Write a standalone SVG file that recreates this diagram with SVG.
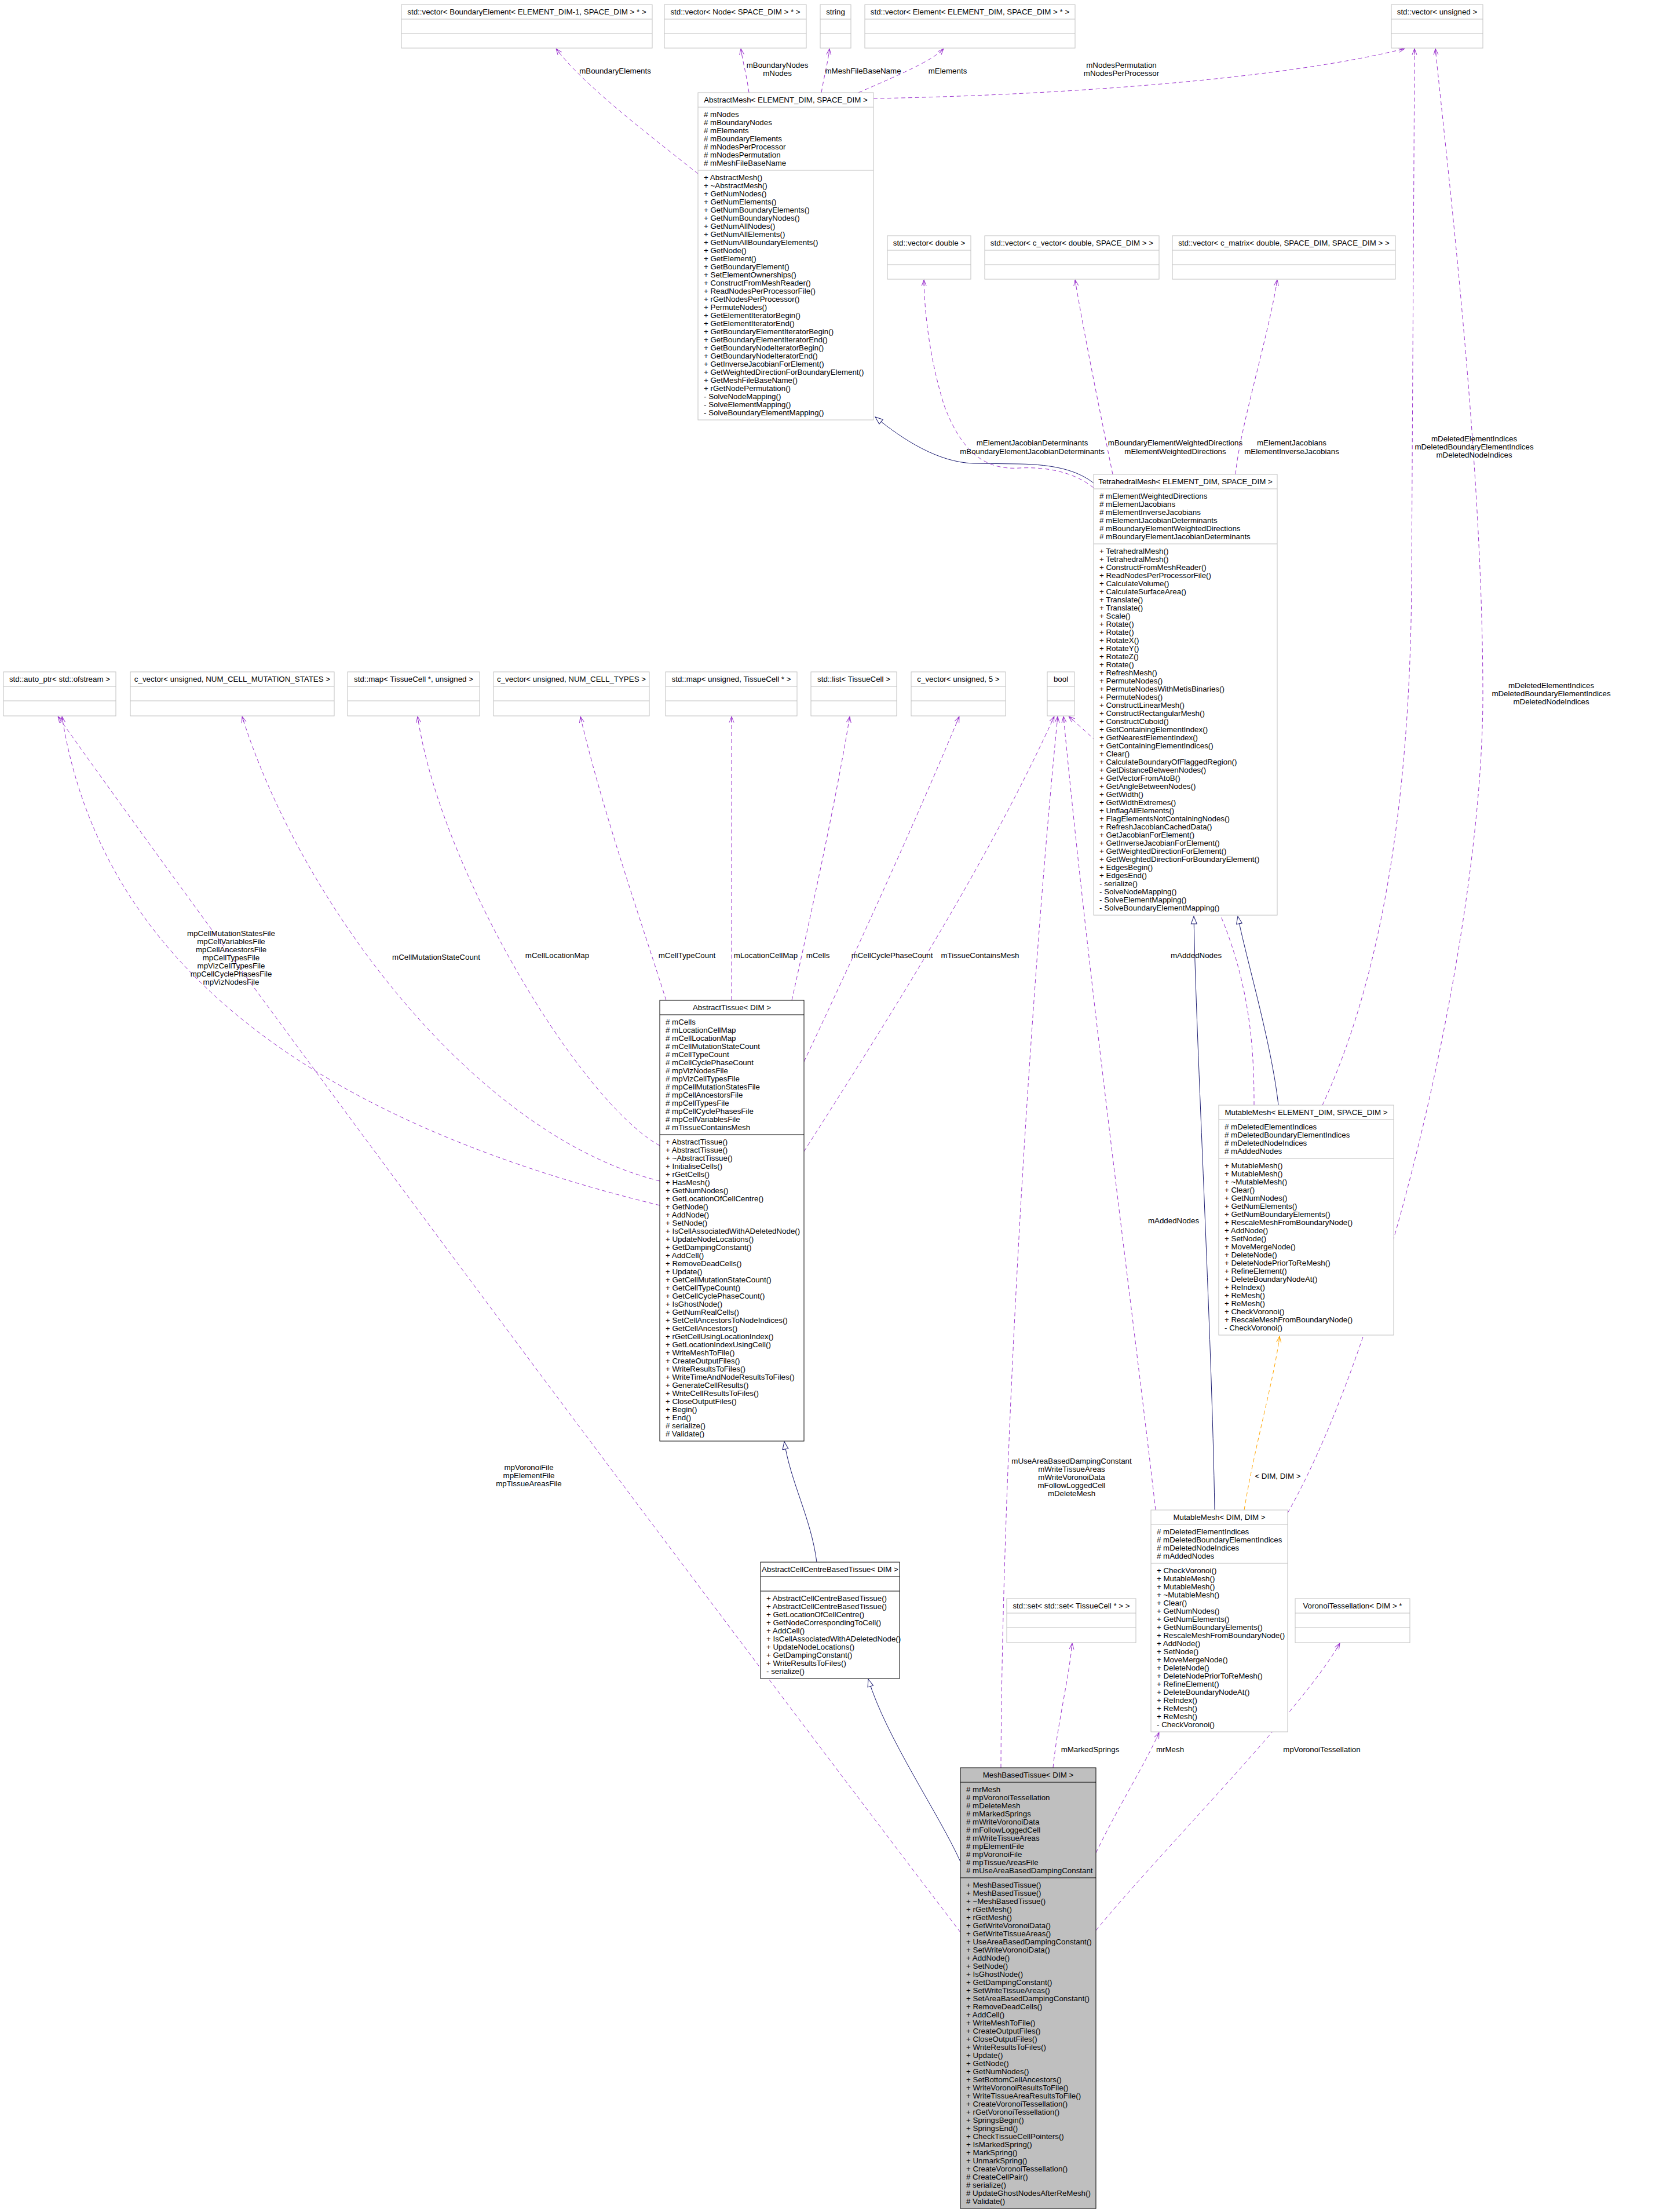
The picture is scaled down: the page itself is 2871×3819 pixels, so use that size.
<svg xmlns="http://www.w3.org/2000/svg" width="2871" height="3819" viewBox="0 0 2871 3819">
<style>
text{font-family:"Liberation Sans",Arial,Helvetica,sans-serif;font-size:13.33px;fill:#000}
.t{text-anchor:middle}
.g rect{fill:#fff;stroke:#bfbfbf;stroke-width:1}
.g path{fill:none;stroke:#bfbfbf;stroke-width:1}
.b rect,.b path{stroke:#000}
.f rect{fill:#bfbfbf}
.e path{fill:none;stroke-width:1}
.u{stroke:#9a32cd;stroke-dasharray:7,5;marker-end:url(#mu)}
.i{stroke:#191970;marker-end:url(#mi)}
.o{stroke:#ffa500;stroke-dasharray:7,5;marker-end:url(#mo)}
</style>
<defs>
<marker id="mu" viewBox="0 0 12 10" refX="11.5" refY="5" markerWidth="12" markerHeight="10" orient="auto" markerUnits="userSpaceOnUse"><path d="M1,1 L11.5,5 L1,9 M1,5 L11.5,5" fill="none" stroke="#9a32cd" stroke-width="1" stroke-dasharray="none"/></marker>
<marker id="mo" viewBox="0 0 12 10" refX="11.5" refY="5" markerWidth="12" markerHeight="10" orient="auto" markerUnits="userSpaceOnUse"><path d="M1,1 L11.5,5 L1,9 M1,5 L11.5,5" fill="none" stroke="#ffa500" stroke-width="1" stroke-dasharray="none"/></marker>
<marker id="mi" viewBox="0 0 15 12" refX="14" refY="6" markerWidth="15" markerHeight="12" orient="auto" markerUnits="userSpaceOnUse"><path d="M1,1 L14,6 L1,11 Z" fill="#fff" stroke="#191970" stroke-width="1"/></marker>
</defs>
<rect x="0" y="0" width="2871" height="3819" fill="#fff"/>

<g id="edges" class="e">
<path class="u" d="M1205,300 C1130,240 1010,150 960,84"/>
<path class="u" d="M1293,160 C1289,130 1283,110 1279,84"/>
<path class="u" d="M1418,160 C1423,130 1429,110 1432,84"/>
<path class="u" d="M1482,160 C1550,130 1610,105 1629,84"/>
<path class="u" d="M1508,170 C1800,165 2200,140 2425,84"/>
<path class="i" d="M1888,834 C1860,812 1820,802 1760,801 L1680,800 C1620,798 1560,760 1511,720"/>
<path class="u" d="M1888,842 C1850,812 1800,806 1760,808 C1700,812 1660,780 1630,700 C1605,620 1596,540 1595,483"/>
<path class="u" d="M1921,819 C1905,740 1872,580 1856,483"/>
<path class="u" d="M2133,819 C2140,740 2190,580 2205,483"/>
<path class="i" d="M2207,1908 C2195,1800 2150,1650 2137,1582"/>
<path class="i" d="M2097,2607 C2092,2300 2065,1800 2061,1582"/>
<path class="o" d="M2148,2607 C2165,2500 2200,2380 2209,2307"/>
<path class="u" d="M2283,1908 C2380,1700 2435,1400 2437,1000 C2439,600 2441,300 2442,84"/>
<path class="u" d="M2223,2612 C2400,2300 2560,1600 2560,1200 C2560,800 2500,300 2478,84"/>
<path class="u" d="M2165,1908 C2165,1750 2150,1500 1845,1237"/>
<path class="u" d="M1995,2607 C1960,2300 1880,1700 1836,1237"/>
<path class="u" d="M1728,3052 C1730,2500 1780,1700 1826,1237"/>
<path class="u" d="M1388,1988 C1520,1780 1700,1500 1820,1237"/>
<path class="u" d="M1388,1833 C1470,1660 1580,1420 1656,1237"/>
<path class="u" d="M1367,1727 C1395,1600 1440,1400 1467,1237"/>
<path class="u" d="M1263,1727 L1263,1237"/>
<path class="u" d="M1150,1727 C1110,1600 1040,1400 1002,1237"/>
<path class="u" d="M1139,1978 C1000,1900 760,1500 721,1237"/>
<path class="u" d="M1139,2039 C820,1960 520,1560 418,1237"/>
<path class="u" d="M1139,2081 C600,1950 180,1700 107,1237"/>
<path class="u" d="M1658,3336 C1250,2800 500,1800 100,1237"/>
<path class="u" d="M1818,3052 C1825,2980 1845,2900 1851,2837"/>
<path class="u" d="M1892,3199 C1930,3120 1980,3040 2001,2991"/>
<path class="u" d="M1892,3333 C2000,3200 2250,2950 2313,2837"/>
<path class="i" d="M1658,3214 C1620,3130 1530,3000 1499,2899"/>
<path class="i" d="M1410,2697 C1400,2620 1365,2560 1354,2489"/>
<g class="t">
<text x="1062" y="127">mBoundaryElements</text>
<text x="1342" y="117">mBoundaryNodes</text><text x="1342" y="131">mNodes</text>
<text x="1490" y="127">mMeshFileBaseName</text>
<text x="1636" y="127">mElements</text>
<text x="1936" y="117">mNodesPermutation</text><text x="1936" y="131">mNodesPerProcessor</text>
<text x="1782" y="769">mElementJacobianDeterminants</text><text x="1782" y="784">mBoundaryElementJacobianDeterminants</text>
<text x="2029" y="769">mBoundaryElementWeightedDirections</text><text x="2029" y="784">mElementWeightedDirections</text>
<text x="2230" y="769">mElementJacobians</text><text x="2230" y="784">mElementInverseJacobians</text>
<text x="2545" y="762">mDeletedElementIndices</text><text x="2545" y="776">mDeletedBoundaryElementIndices</text><text x="2545" y="790">mDeletedNodeIndices</text>
<text x="2678" y="1188">mDeletedElementIndices</text><text x="2678" y="1202">mDeletedBoundaryElementIndices</text><text x="2678" y="1216">mDeletedNodeIndices</text>
<text x="399" y="1616">mpCellMutationStatesFile</text><text x="399" y="1630">mpCellVariablesFile</text><text x="399" y="1644">mpCellAncestorsFile</text><text x="399" y="1658">mpCellTypesFile</text><text x="399" y="1672">mpVizCellTypesFile</text><text x="399" y="1686">mpCellCyclePhasesFile</text><text x="399" y="1700">mpVizNodesFile</text>
<text x="753" y="1657">mCellMutationStateCount</text>
<text x="962" y="1654">mCellLocationMap</text>
<text x="1186" y="1654">mCellTypeCount</text>
<text x="1322" y="1654">mLocationCellMap</text>
<text x="1412" y="1654">mCells</text>
<text x="1540" y="1654">mCellCyclePhaseCount</text>
<text x="1692" y="1654">mTissueContainsMesh</text>
<text x="2065" y="1654">mAddedNodes</text>
<text x="2026" y="2112">mAddedNodes</text>
<text x="2206" y="2553">&lt; DIM, DIM &gt;</text>
<text x="913" y="2538">mpVoronoiFile</text><text x="913" y="2552">mpElementFile</text><text x="913" y="2566">mpTissueAreasFile</text>
<text x="1850" y="2527">mUseAreaBasedDampingConstant</text><text x="1850" y="2541">mWriteTissueAreas</text><text x="1850" y="2555">mWriteVoronoiData</text><text x="1850" y="2569">mFollowLoggedCell</text><text x="1850" y="2583">mDeleteMesh</text>
<text x="1882" y="3025">mMarkedSprings</text>
<text x="2020" y="3025">mrMesh</text>
<text x="2282" y="3025">mpVoronoiTessellation</text>
</g>
</g>

<g id="n_vecBoundaryElement" class="g"><rect x="693" y="8" width="433" height="75"/><path d="M693,33H1126M693,58H1126"/><text class="t" x="909.5" y="25">std::vector&lt; BoundaryElement&lt; ELEMENT_DIM-1, SPACE_DIM &gt; * &gt;</text></g>
<g id="n_vecNode" class="g"><rect x="1147" y="8" width="245" height="75"/><path d="M1147,33H1392M1147,58H1392"/><text class="t" x="1269.5" y="25">std::vector&lt; Node&lt; SPACE_DIM &gt; * &gt;</text></g>
<g id="n_string" class="g"><rect x="1416" y="8" width="53" height="75"/><path d="M1416,33H1469M1416,58H1469"/><text class="t" x="1442.5" y="25">string</text></g>
<g id="n_vecElement" class="g"><rect x="1493" y="8" width="363" height="75"/><path d="M1493,33H1856M1493,58H1856"/><text class="t" x="1674.5" y="25">std::vector&lt; Element&lt; ELEMENT_DIM, SPACE_DIM &gt; * &gt;</text></g>
<g id="n_vecUnsigned" class="g"><rect x="2402" y="8" width="158" height="75"/><path d="M2402,33H2560M2402,58H2560"/><text class="t" x="2481" y="25">std::vector&lt; unsigned &gt;</text></g>

<g id="n_vecDouble" class="g"><rect x="1532" y="407" width="144" height="75"/><path d="M1532,432H1676M1532,457H1676"/><text class="t" x="1604" y="424">std::vector&lt; double &gt;</text></g>
<g id="n_vecCVector" class="g"><rect x="1700" y="407" width="301" height="75"/><path d="M1700,432H2001M1700,457H2001"/><text class="t" x="1850.5" y="424">std::vector&lt; c_vector&lt; double, SPACE_DIM &gt; &gt;</text></g>
<g id="n_vecCMatrix" class="g"><rect x="2024" y="407" width="385" height="75"/><path d="M2024,432H2409M2024,457H2409"/><text class="t" x="2216.5" y="424">std::vector&lt; c_matrix&lt; double, SPACE_DIM, SPACE_DIM &gt; &gt;</text></g>

<g id="n_autoPtr" class="g"><rect x="6" y="1160" width="194" height="76"/><path d="M6,1185H200M6,1210H200"/><text class="t" x="103" y="1177">std::auto_ptr&lt; std::ofstream &gt;</text></g>
<g id="n_cvMutation" class="g"><rect x="225" y="1160" width="352" height="76"/><path d="M225,1185H577M225,1210H577"/><text class="t" x="401" y="1177">c_vector&lt; unsigned, NUM_CELL_MUTATION_STATES &gt;</text></g>
<g id="n_mapCellUnsigned" class="g"><rect x="600" y="1160" width="228" height="76"/><path d="M600,1185H828M600,1210H828"/><text class="t" x="714" y="1177">std::map&lt; TissueCell *, unsigned &gt;</text></g>
<g id="n_cvTypes" class="g"><rect x="852" y="1160" width="269" height="76"/><path d="M852,1185H1121M852,1210H1121"/><text class="t" x="986.5" y="1177">c_vector&lt; unsigned, NUM_CELL_TYPES &gt;</text></g>
<g id="n_mapUnsignedCell" class="g"><rect x="1149" y="1160" width="227" height="76"/><path d="M1149,1185H1376M1149,1210H1376"/><text class="t" x="1262.5" y="1177">std::map&lt; unsigned, TissueCell * &gt;</text></g>
<g id="n_listCell" class="g"><rect x="1400" y="1160" width="148" height="76"/><path d="M1400,1185H1548M1400,1210H1548"/><text class="t" x="1474" y="1177">std::list&lt; TissueCell &gt;</text></g>
<g id="n_cv5" class="g"><rect x="1573" y="1160" width="163" height="76"/><path d="M1573,1185H1736M1573,1210H1736"/><text class="t" x="1654.5" y="1177">c_vector&lt; unsigned, 5 &gt;</text></g>
<g id="n_bool" class="g"><rect x="1808" y="1160" width="47" height="76"/><path d="M1808,1185H1855M1808,1210H1855"/><text class="t" x="1831.5" y="1177">bool</text></g>

<g id="n_setSet" class="g"><rect x="1738" y="2760" width="223" height="76"/><path d="M1738,2785H1961M1738,2810H1961"/><text class="t" x="1849.5" y="2777">std::set&lt; std::set&lt; TissueCell * &gt; &gt;</text></g>
<g id="n_voronoi" class="g"><rect x="2236" y="2760" width="198" height="76"/><path d="M2236,2785H2434M2236,2810H2434"/><text class="t" x="2335" y="2777">VoronoiTessellation&lt; DIM &gt; *</text></g>

<g id="n_AbstractMesh" class="g"><rect x="1205" y="160" width="303" height="565"/><path d="M1205,185H1508M1205,294H1508"/>
<text class="t" x="1356.5" y="177">AbstractMesh&lt; ELEMENT_DIM, SPACE_DIM &gt;</text>
<text x="1215" y="202"><tspan x="1215"># mNodes</tspan><tspan x="1215" dy="14"># mBoundaryNodes</tspan><tspan x="1215" dy="14"># mElements</tspan><tspan x="1215" dy="14"># mBoundaryElements</tspan><tspan x="1215" dy="14"># mNodesPerProcessor</tspan><tspan x="1215" dy="14"># mNodesPermutation</tspan><tspan x="1215" dy="14"># mMeshFileBaseName</tspan></text>
<text x="1215" y="311"><tspan x="1215">+ AbstractMesh()</tspan><tspan x="1215" dy="14">+ ~AbstractMesh()</tspan><tspan x="1215" dy="14">+ GetNumNodes()</tspan><tspan x="1215" dy="14">+ GetNumElements()</tspan><tspan x="1215" dy="14">+ GetNumBoundaryElements()</tspan><tspan x="1215" dy="14">+ GetNumBoundaryNodes()</tspan><tspan x="1215" dy="14">+ GetNumAllNodes()</tspan><tspan x="1215" dy="14">+ GetNumAllElements()</tspan><tspan x="1215" dy="14">+ GetNumAllBoundaryElements()</tspan><tspan x="1215" dy="14">+ GetNode()</tspan><tspan x="1215" dy="14">+ GetElement()</tspan><tspan x="1215" dy="14">+ GetBoundaryElement()</tspan><tspan x="1215" dy="14">+ SetElementOwnerships()</tspan><tspan x="1215" dy="14">+ ConstructFromMeshReader()</tspan><tspan x="1215" dy="14">+ ReadNodesPerProcessorFile()</tspan><tspan x="1215" dy="14">+ rGetNodesPerProcessor()</tspan><tspan x="1215" dy="14">+ PermuteNodes()</tspan><tspan x="1215" dy="14">+ GetElementIteratorBegin()</tspan><tspan x="1215" dy="14">+ GetElementIteratorEnd()</tspan><tspan x="1215" dy="14">+ GetBoundaryElementIteratorBegin()</tspan><tspan x="1215" dy="14">+ GetBoundaryElementIteratorEnd()</tspan><tspan x="1215" dy="14">+ GetBoundaryNodeIteratorBegin()</tspan><tspan x="1215" dy="14">+ GetBoundaryNodeIteratorEnd()</tspan><tspan x="1215" dy="14">+ GetInverseJacobianForElement()</tspan><tspan x="1215" dy="14">+ GetWeightedDirectionForBoundaryElement()</tspan><tspan x="1215" dy="14">+ GetMeshFileBaseName()</tspan><tspan x="1215" dy="14">+ rGetNodePermutation()</tspan><tspan x="1215" dy="14">- SolveNodeMapping()</tspan><tspan x="1215" dy="14">- SolveElementMapping()</tspan><tspan x="1215" dy="14">- SolveBoundaryElementMapping()</tspan></text>
</g>

<g id="n_TetrahedralMesh" class="g"><rect x="1888" y="819" width="317" height="761"/><path d="M1888,844H2205M1888,939H2205"/>
<text class="t" x="2046.5" y="836">TetrahedralMesh&lt; ELEMENT_DIM, SPACE_DIM &gt;</text>
<text x="1898" y="861"><tspan x="1898"># mElementWeightedDirections</tspan><tspan x="1898" dy="14"># mElementJacobians</tspan><tspan x="1898" dy="14"># mElementInverseJacobians</tspan><tspan x="1898" dy="14"># mElementJacobianDeterminants</tspan><tspan x="1898" dy="14"># mBoundaryElementWeightedDirections</tspan><tspan x="1898" dy="14"># mBoundaryElementJacobianDeterminants</tspan></text>
<text x="1898" y="956"><tspan x="1898">+ TetrahedralMesh()</tspan><tspan x="1898" dy="14">+ TetrahedralMesh()</tspan><tspan x="1898" dy="14">+ ConstructFromMeshReader()</tspan><tspan x="1898" dy="14">+ ReadNodesPerProcessorFile()</tspan><tspan x="1898" dy="14">+ CalculateVolume()</tspan><tspan x="1898" dy="14">+ CalculateSurfaceArea()</tspan><tspan x="1898" dy="14">+ Translate()</tspan><tspan x="1898" dy="14">+ Translate()</tspan><tspan x="1898" dy="14">+ Scale()</tspan><tspan x="1898" dy="14">+ Rotate()</tspan><tspan x="1898" dy="14">+ Rotate()</tspan><tspan x="1898" dy="14">+ RotateX()</tspan><tspan x="1898" dy="14">+ RotateY()</tspan><tspan x="1898" dy="14">+ RotateZ()</tspan><tspan x="1898" dy="14">+ Rotate()</tspan><tspan x="1898" dy="14">+ RefreshMesh()</tspan><tspan x="1898" dy="14">+ PermuteNodes()</tspan><tspan x="1898" dy="14">+ PermuteNodesWithMetisBinaries()</tspan><tspan x="1898" dy="14">+ PermuteNodes()</tspan><tspan x="1898" dy="14">+ ConstructLinearMesh()</tspan><tspan x="1898" dy="14">+ ConstructRectangularMesh()</tspan><tspan x="1898" dy="14">+ ConstructCuboid()</tspan><tspan x="1898" dy="14">+ GetContainingElementIndex()</tspan><tspan x="1898" dy="14">+ GetNearestElementIndex()</tspan><tspan x="1898" dy="14">+ GetContainingElementIndices()</tspan><tspan x="1898" dy="14">+ Clear()</tspan><tspan x="1898" dy="14">+ CalculateBoundaryOfFlaggedRegion()</tspan><tspan x="1898" dy="14">+ GetDistanceBetweenNodes()</tspan><tspan x="1898" dy="14">+ GetVectorFromAtoB()</tspan><tspan x="1898" dy="14">+ GetAngleBetweenNodes()</tspan><tspan x="1898" dy="14">+ GetWidth()</tspan><tspan x="1898" dy="14">+ GetWidthExtremes()</tspan><tspan x="1898" dy="14">+ UnflagAllElements()</tspan><tspan x="1898" dy="14">+ FlagElementsNotContainingNodes()</tspan><tspan x="1898" dy="14">+ RefreshJacobianCachedData()</tspan><tspan x="1898" dy="14">+ GetJacobianForElement()</tspan><tspan x="1898" dy="14">+ GetInverseJacobianForElement()</tspan><tspan x="1898" dy="14">+ GetWeightedDirectionForElement()</tspan><tspan x="1898" dy="14">+ GetWeightedDirectionForBoundaryElement()</tspan><tspan x="1898" dy="14">+ EdgesBegin()</tspan><tspan x="1898" dy="14">+ EdgesEnd()</tspan><tspan x="1898" dy="14">- serialize()</tspan><tspan x="1898" dy="14">- SolveNodeMapping()</tspan><tspan x="1898" dy="14">- SolveElementMapping()</tspan><tspan x="1898" dy="14">- SolveBoundaryElementMapping()</tspan></text>
</g>

<g id="n_AbstractTissue" class="g b"><rect x="1139" y="1727" width="249" height="761"/><path d="M1139,1752H1388M1139,1959H1388"/>
<text class="t" x="1263.5" y="1744">AbstractTissue&lt; DIM &gt;</text>
<text x="1149" y="1769"><tspan x="1149"># mCells</tspan><tspan x="1149" dy="14"># mLocationCellMap</tspan><tspan x="1149" dy="14"># mCellLocationMap</tspan><tspan x="1149" dy="14"># mCellMutationStateCount</tspan><tspan x="1149" dy="14"># mCellTypeCount</tspan><tspan x="1149" dy="14"># mCellCyclePhaseCount</tspan><tspan x="1149" dy="14"># mpVizNodesFile</tspan><tspan x="1149" dy="14"># mpVizCellTypesFile</tspan><tspan x="1149" dy="14"># mpCellMutationStatesFile</tspan><tspan x="1149" dy="14"># mpCellAncestorsFile</tspan><tspan x="1149" dy="14"># mpCellTypesFile</tspan><tspan x="1149" dy="14"># mpCellCyclePhasesFile</tspan><tspan x="1149" dy="14"># mpCellVariablesFile</tspan><tspan x="1149" dy="14"># mTissueContainsMesh</tspan></text>
<text x="1149" y="1976"><tspan x="1149">+ AbstractTissue()</tspan><tspan x="1149" dy="14">+ AbstractTissue()</tspan><tspan x="1149" dy="14">+ ~AbstractTissue()</tspan><tspan x="1149" dy="14">+ InitialiseCells()</tspan><tspan x="1149" dy="14">+ rGetCells()</tspan><tspan x="1149" dy="14">+ HasMesh()</tspan><tspan x="1149" dy="14">+ GetNumNodes()</tspan><tspan x="1149" dy="14">+ GetLocationOfCellCentre()</tspan><tspan x="1149" dy="14">+ GetNode()</tspan><tspan x="1149" dy="14">+ AddNode()</tspan><tspan x="1149" dy="14">+ SetNode()</tspan><tspan x="1149" dy="14">+ IsCellAssociatedWithADeletedNode()</tspan><tspan x="1149" dy="14">+ UpdateNodeLocations()</tspan><tspan x="1149" dy="14">+ GetDampingConstant()</tspan><tspan x="1149" dy="14">+ AddCell()</tspan><tspan x="1149" dy="14">+ RemoveDeadCells()</tspan><tspan x="1149" dy="14">+ Update()</tspan><tspan x="1149" dy="14">+ GetCellMutationStateCount()</tspan><tspan x="1149" dy="14">+ GetCellTypeCount()</tspan><tspan x="1149" dy="14">+ GetCellCyclePhaseCount()</tspan><tspan x="1149" dy="14">+ IsGhostNode()</tspan><tspan x="1149" dy="14">+ GetNumRealCells()</tspan><tspan x="1149" dy="14">+ SetCellAncestorsToNodeIndices()</tspan><tspan x="1149" dy="14">+ GetCellAncestors()</tspan><tspan x="1149" dy="14">+ rGetCellUsingLocationIndex()</tspan><tspan x="1149" dy="14">+ GetLocationIndexUsingCell()</tspan><tspan x="1149" dy="14">+ WriteMeshToFile()</tspan><tspan x="1149" dy="14">+ CreateOutputFiles()</tspan><tspan x="1149" dy="14">+ WriteResultsToFiles()</tspan><tspan x="1149" dy="14">+ WriteTimeAndNodeResultsToFiles()</tspan><tspan x="1149" dy="14">+ GenerateCellResults()</tspan><tspan x="1149" dy="14">+ WriteCellResultsToFiles()</tspan><tspan x="1149" dy="14">+ CloseOutputFiles()</tspan><tspan x="1149" dy="14">+ Begin()</tspan><tspan x="1149" dy="14">+ End()</tspan><tspan x="1149" dy="14"># serialize()</tspan><tspan x="1149" dy="14"># Validate()</tspan></text>
</g>

<g id="n_MutableMeshES" class="g"><rect x="2104" y="1908" width="302" height="397"/><path d="M2104,1933H2406M2104,2000H2406"/>
<text class="t" x="2255" y="1925">MutableMesh&lt; ELEMENT_DIM, SPACE_DIM &gt;</text>
<text x="2114" y="1950"><tspan x="2114"># mDeletedElementIndices</tspan><tspan x="2114" dy="14"># mDeletedBoundaryElementIndices</tspan><tspan x="2114" dy="14"># mDeletedNodeIndices</tspan><tspan x="2114" dy="14"># mAddedNodes</tspan></text>
<text x="2114" y="2017"><tspan x="2114">+ MutableMesh()</tspan><tspan x="2114" dy="14">+ MutableMesh()</tspan><tspan x="2114" dy="14">+ ~MutableMesh()</tspan><tspan x="2114" dy="14">+ Clear()</tspan><tspan x="2114" dy="14">+ GetNumNodes()</tspan><tspan x="2114" dy="14">+ GetNumElements()</tspan><tspan x="2114" dy="14">+ GetNumBoundaryElements()</tspan><tspan x="2114" dy="14">+ RescaleMeshFromBoundaryNode()</tspan><tspan x="2114" dy="14">+ AddNode()</tspan><tspan x="2114" dy="14">+ SetNode()</tspan><tspan x="2114" dy="14">+ MoveMergeNode()</tspan><tspan x="2114" dy="14">+ DeleteNode()</tspan><tspan x="2114" dy="14">+ DeleteNodePriorToReMesh()</tspan><tspan x="2114" dy="14">+ RefineElement()</tspan><tspan x="2114" dy="14">+ DeleteBoundaryNodeAt()</tspan><tspan x="2114" dy="14">+ ReIndex()</tspan><tspan x="2114" dy="14">+ ReMesh()</tspan><tspan x="2114" dy="14">+ ReMesh()</tspan><tspan x="2114" dy="14">+ CheckVoronoi()</tspan><tspan x="2114" dy="14">+ RescaleMeshFromBoundaryNode()</tspan><tspan x="2114" dy="14">- CheckVoronoi()</tspan></text>
</g>

<g id="n_MutableMeshDD" class="g"><rect x="1987" y="2607" width="236" height="383"/><path d="M1987,2632H2223M1987,2699H2223"/>
<text class="t" x="2105" y="2624">MutableMesh&lt; DIM, DIM &gt;</text>
<text x="1997" y="2649"><tspan x="1997"># mDeletedElementIndices</tspan><tspan x="1997" dy="14"># mDeletedBoundaryElementIndices</tspan><tspan x="1997" dy="14"># mDeletedNodeIndices</tspan><tspan x="1997" dy="14"># mAddedNodes</tspan></text>
<text x="1997" y="2716"><tspan x="1997">+ CheckVoronoi()</tspan><tspan x="1997" dy="14">+ MutableMesh()</tspan><tspan x="1997" dy="14">+ MutableMesh()</tspan><tspan x="1997" dy="14">+ ~MutableMesh()</tspan><tspan x="1997" dy="14">+ Clear()</tspan><tspan x="1997" dy="14">+ GetNumNodes()</tspan><tspan x="1997" dy="14">+ GetNumElements()</tspan><tspan x="1997" dy="14">+ GetNumBoundaryElements()</tspan><tspan x="1997" dy="14">+ RescaleMeshFromBoundaryNode()</tspan><tspan x="1997" dy="14">+ AddNode()</tspan><tspan x="1997" dy="14">+ SetNode()</tspan><tspan x="1997" dy="14">+ MoveMergeNode()</tspan><tspan x="1997" dy="14">+ DeleteNode()</tspan><tspan x="1997" dy="14">+ DeleteNodePriorToReMesh()</tspan><tspan x="1997" dy="14">+ RefineElement()</tspan><tspan x="1997" dy="14">+ DeleteBoundaryNodeAt()</tspan><tspan x="1997" dy="14">+ ReIndex()</tspan><tspan x="1997" dy="14">+ ReMesh()</tspan><tspan x="1997" dy="14">+ ReMesh()</tspan><tspan x="1997" dy="14">- CheckVoronoi()</tspan></text>
</g>

<g id="n_AbstractCellCentreBasedTissue" class="g b"><rect x="1313" y="2697" width="240" height="201"/><path d="M1313,2722H1553M1313,2747H1553"/>
<text class="t" x="1433" y="2714">AbstractCellCentreBasedTissue&lt; DIM &gt;</text>
<text x="1323" y="2764"><tspan x="1323">+ AbstractCellCentreBasedTissue()</tspan><tspan x="1323" dy="14">+ AbstractCellCentreBasedTissue()</tspan><tspan x="1323" dy="14">+ GetLocationOfCellCentre()</tspan><tspan x="1323" dy="14">+ GetNodeCorrespondingToCell()</tspan><tspan x="1323" dy="14">+ AddCell()</tspan><tspan x="1323" dy="14">+ IsCellAssociatedWithADeletedNode()</tspan><tspan x="1323" dy="14">+ UpdateNodeLocations()</tspan><tspan x="1323" dy="14">+ GetDampingConstant()</tspan><tspan x="1323" dy="14">+ WriteResultsToFiles()</tspan><tspan x="1323" dy="14">- serialize()</tspan></text>
</g>

<g id="n_MeshBasedTissue" class="g b f"><rect x="1658" y="3052" width="234" height="761"/><path d="M1658,3077H1892M1658,3242H1892"/>
<text class="t" x="1775" y="3069">MeshBasedTissue&lt; DIM &gt;</text>
<text x="1668" y="3094"><tspan x="1668"># mrMesh</tspan><tspan x="1668" dy="14"># mpVoronoiTessellation</tspan><tspan x="1668" dy="14"># mDeleteMesh</tspan><tspan x="1668" dy="14"># mMarkedSprings</tspan><tspan x="1668" dy="14"># mWriteVoronoiData</tspan><tspan x="1668" dy="14"># mFollowLoggedCell</tspan><tspan x="1668" dy="14"># mWriteTissueAreas</tspan><tspan x="1668" dy="14"># mpElementFile</tspan><tspan x="1668" dy="14"># mpVoronoiFile</tspan><tspan x="1668" dy="14"># mpTissueAreasFile</tspan><tspan x="1668" dy="14"># mUseAreaBasedDampingConstant</tspan></text>
<text x="1668" y="3259"><tspan x="1668">+ MeshBasedTissue()</tspan><tspan x="1668" dy="14">+ MeshBasedTissue()</tspan><tspan x="1668" dy="14">+ ~MeshBasedTissue()</tspan><tspan x="1668" dy="14">+ rGetMesh()</tspan><tspan x="1668" dy="14">+ rGetMesh()</tspan><tspan x="1668" dy="14">+ GetWriteVoronoiData()</tspan><tspan x="1668" dy="14">+ GetWriteTissueAreas()</tspan><tspan x="1668" dy="14">+ UseAreaBasedDampingConstant()</tspan><tspan x="1668" dy="14">+ SetWriteVoronoiData()</tspan><tspan x="1668" dy="14">+ AddNode()</tspan><tspan x="1668" dy="14">+ SetNode()</tspan><tspan x="1668" dy="14">+ IsGhostNode()</tspan><tspan x="1668" dy="14">+ GetDampingConstant()</tspan><tspan x="1668" dy="14">+ SetWriteTissueAreas()</tspan><tspan x="1668" dy="14">+ SetAreaBasedDampingConstant()</tspan><tspan x="1668" dy="14">+ RemoveDeadCells()</tspan><tspan x="1668" dy="14">+ AddCell()</tspan><tspan x="1668" dy="14">+ WriteMeshToFile()</tspan><tspan x="1668" dy="14">+ CreateOutputFiles()</tspan><tspan x="1668" dy="14">+ CloseOutputFiles()</tspan><tspan x="1668" dy="14">+ WriteResultsToFiles()</tspan><tspan x="1668" dy="14">+ Update()</tspan><tspan x="1668" dy="14">+ GetNode()</tspan><tspan x="1668" dy="14">+ GetNumNodes()</tspan><tspan x="1668" dy="14">+ SetBottomCellAncestors()</tspan><tspan x="1668" dy="14">+ WriteVoronoiResultsToFile()</tspan><tspan x="1668" dy="14">+ WriteTissueAreaResultsToFile()</tspan><tspan x="1668" dy="14">+ CreateVoronoiTessellation()</tspan><tspan x="1668" dy="14">+ rGetVoronoiTessellation()</tspan><tspan x="1668" dy="14">+ SpringsBegin()</tspan><tspan x="1668" dy="14">+ SpringsEnd()</tspan><tspan x="1668" dy="14">+ CheckTissueCellPointers()</tspan><tspan x="1668" dy="14">+ IsMarkedSpring()</tspan><tspan x="1668" dy="14">+ MarkSpring()</tspan><tspan x="1668" dy="14">+ UnmarkSpring()</tspan><tspan x="1668" dy="14">+ CreateVoronoiTessellation()</tspan><tspan x="1668" dy="14"># CreateCellPair()</tspan><tspan x="1668" dy="14"># serialize()</tspan><tspan x="1668" dy="14"># UpdateGhostNodesAfterReMesh()</tspan><tspan x="1668" dy="14"># Validate()</tspan></text>
</g>
</svg>
